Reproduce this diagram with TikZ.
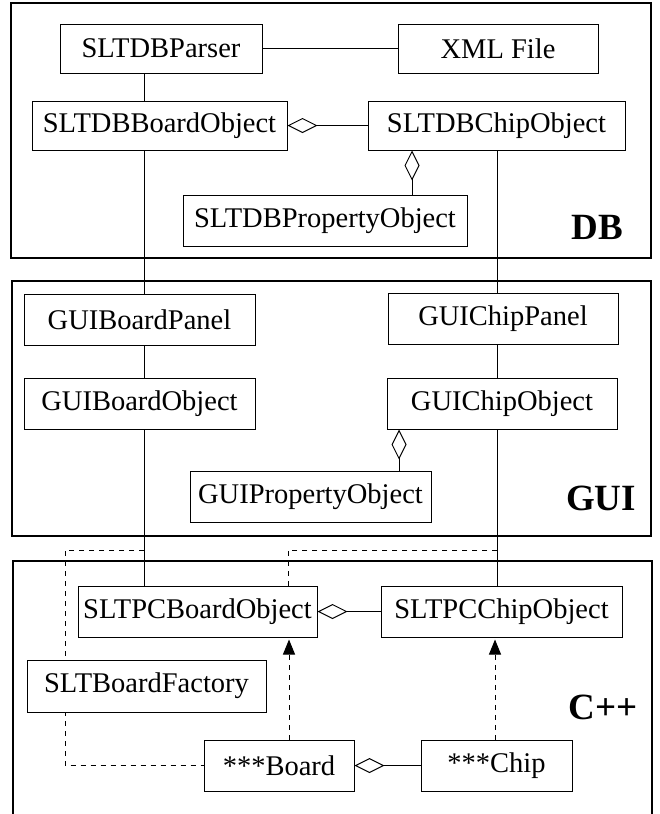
\documentclass[tikz,border=0pt]{standalone}
\usepackage{fontspec}
\setmainfont{Liberation Serif}
\usetikzlibrary{arrows.meta}
\pgfdeclarelayer{back}
\pgfsetlayers{back,main}

\tikzset{
  cls/.style={draw, line width=1pt, fill=white, inner sep=0pt,
    font=\fontsize{28.5}{30}\selectfont},
  pkg/.style={draw, line width=1.3pt},
  pkglabel/.style={font=\fontsize{37}{40}\selectfont\bfseries},
  assoc/.style={line width=1pt},
  aggr/.style={line width=1pt,
    {Diamond[open,length=30pt,width=15pt,line width=1pt]}-},
  realize/.style={line width=1pt, dash pattern=on 5pt off 5pt,
    -{Triangle[length=15pt,width=12pt]}, shorten >=2pt},
  dep/.style={line width=1pt, dash pattern=on 5pt off 5pt},
}

\begin{document}
\begin{tikzpicture}[x=1pt,y=-1pt]
\useasboundingbox (0,0) rectangle (659,814);

% packages
\draw[pkg] (11,3) rectangle (651,258);
\draw[pkg] (12,281) rectangle (651,536);
\draw[pkg] (13,830) -- (13,561) -- (652,561) -- (652,830);
\node[pkglabel] (lDB)  at (597,227) {DB};
\node[pkglabel] (lGUI) at (601,498) {GUI};
\node[pkglabel] (lCPP) at (603,707) {C++};

% DB layer
\node[cls, minimum width=202pt, minimum height=49pt] (parser) at (161,48.5) {SLTDBParser};
\node[cls, minimum width=200pt, minimum height=49pt] (xml) at (498,48.5) {XML File};
\node[cls, minimum width=255pt, minimum height=49pt] (dbboard) at (159.5,125.5) {SLTDBBoardObject};
\node[cls, minimum width=257pt, minimum height=49pt] (dbchip) at (496.5,125.5) {SLTDBChipObject};
\node[cls, minimum width=284pt, minimum height=51pt] (dbprop) at (325,220.5) {SLTDBPropertyObject};

% GUI layer
\node[cls, minimum width=231pt, minimum height=51pt] (gbpanel) at (139.5,319.5) {GUIBoardPanel};
\node[cls, minimum width=231pt, minimum height=51pt] (gbobj) at (139.5,404) {GUIBoardObject};
\node[cls, minimum width=230pt, minimum height=51pt] (gcpanel) at (503,319) {GUIChipPanel};
\node[cls, minimum width=230pt, minimum height=51pt] (gcobj) at (502,403.5) {GUIChipObject};
\node[cls, minimum width=241pt, minimum height=51pt] (gprop) at (310.5,496.5) {GUIPropertyObject};

% C++ layer
\node[cls, minimum width=239pt, minimum height=51pt] (pcboard) at (197.5,611.5) {SLTPCBoardObject};
\node[cls, minimum width=241pt, minimum height=51pt] (pcchip) at (501.5,611.5) {SLTPCChipObject};
\node[cls, minimum width=239pt, minimum height=52pt] (factory) at (146.5,686) {SLTBoardFactory};
\node[cls, minimum width=150pt, minimum height=51pt] (board) at (279,765.5) {***Board};
\node[cls, minimum width=151pt, minimum height=51pt] (chip) at (496.5,765.5) {***Chip};

% x positions of the vertical links
\coordinate (xl) at (144,0);
\coordinate (xr) at (497,0);
\coordinate (xdp) at (412,0);
\coordinate (xgp) at (399,0);
\coordinate (xbd) at (289,0);
\coordinate (xch) at (495,0);
\coordinate (xfac) at (65,0);
\coordinate (xpc) at (288,0);
\coordinate (j1) at (144,550);
\coordinate (j2) at (497,550);

% associations
\draw[assoc] (parser) -- (xml);
\draw[assoc] (parser.south -| xl) -- (dbboard.north -| xl);
\draw[assoc] (dbboard.south -| xl) -- (gbpanel.north -| xl);
\draw[assoc] (gbpanel.south -| xl) -- (gbobj.north -| xl);
\draw[assoc] (gbobj.south -| xl) -- (pcboard.north -| xl);
\draw[assoc] (dbchip.south -| xr) -- (gcpanel.north -| xr);
\draw[assoc] (gcpanel.south -| xr) -- (gcobj.north -| xr);
\draw[assoc] (gcobj.south -| xr) -- (pcchip.north -| xr);

% aggregations
\draw[aggr] (dbboard.east) -- (dbboard.east -| dbchip.west);
\draw[aggr] (dbchip.south -| xdp) -- (dbprop.north -| xdp);
\draw[aggr] (gcobj.south -| xgp) -- (gprop.north -| xgp);
\draw[aggr] (pcboard.east) -- (pcboard.east -| pcchip.west);
\draw[aggr] (board.east) -- (board.east -| chip.west);

% realizations
\draw[realize] (board.north -| xbd) -- (pcboard.south -| xbd);
\draw[realize] (chip.north -| xch) -- (pcchip.south -| xch);

% dependencies, behind the class boxes
\begin{pgfonlayer}{back}
\draw[dep] (j1) -| (xfac |- board.west) -- (board.west);
\draw[dep] (j2) -| (pcboard.north -| xpc);
\end{pgfonlayer}
\end{tikzpicture}
\end{document}
